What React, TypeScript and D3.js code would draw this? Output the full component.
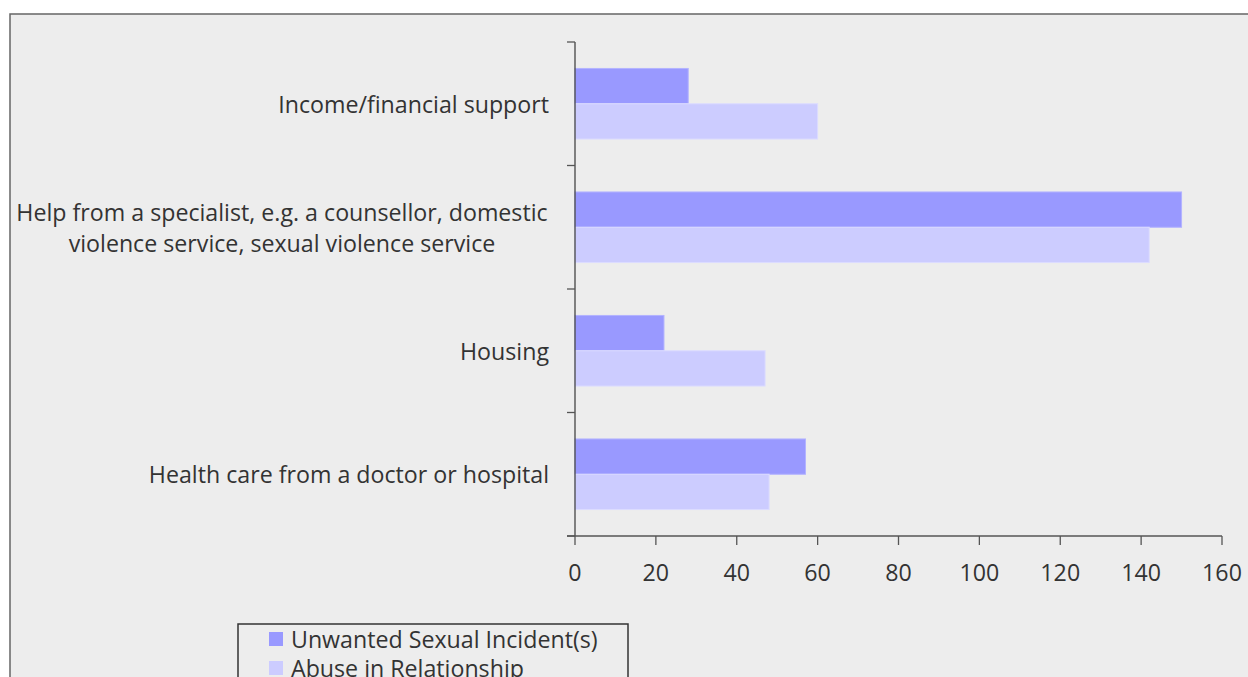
import React from "react";
import * as d3 from "d3";

const categories: string[][] = [
  ["Income/financial support"],
  ["Help from a specialist, e.g. a counsellor, domestic", "violence service, sexual violence service"],
  ["Housing"],
  ["Health care from a doctor or hospital"],
];
const seriesNames = ["Unwanted Sexual Incident(s)", "Abuse in Relationship"];
const unwanted = [28, 150, 22, 57];
const abuse = [60, 142, 47, 48];
const xTicks = [0, 20, 40, 60, 80, 100, 120, 140, 160];
const colors = ["#9999ff", "#ccccff"];

const W = 1248;
const H = 677;
const FONT = "'Open Sans', sans-serif";
const FS = 23.2;

export default function App() {
  const left = 575;
  const right = 1222;
  const top = 42;
  const bottom = 536;
  const x = d3.scaleLinear().domain([0, 160]).range([left, right]);
  const y = d3
    .scaleBand<number>()
    .domain(d3.range(categories.length))
    .range([top, bottom]);
  const band = y.bandwidth();
  const barH = band / 3.5;
  const series = [unwanted, abuse];
  const boundaries = d3.range(categories.length + 1).map((i) => top + i * band);

  return (
    <svg
      width={W}
      height={H}
      style={{ position: "absolute", left: 0, top: 0 }}
      fontFamily={FONT}
    >
      <rect x={0} y={0} width={W} height={H} fill="#ffffff" />
      <rect x={10} y={14} width={W + 20} height={H + 20} fill="#ededed" stroke="#666" strokeWidth={1.5} />

      {series.map((vals, si) =>
        vals.map((v, i) => {
          const y0 = (y(i) as number) + (band - 2 * barH) / 2 + si * barH;
          return (
            <rect
              key={`b${si}-${i}`}
              x={x(0)}
              y={y0}
              width={x(v) - x(0)}
              height={barH}
              fill={colors[si]}
              stroke={si === 0 ? "#b3b3ff" : "#dcdcff"}
              strokeWidth={1}
            />
          );
        })
      )}

      {/* y axis */}
      <line x1={left} x2={left} y1={top} y2={bottom} stroke="#444" strokeWidth={1.3} />
      {boundaries.map((b, i) => (
        <line key={`yt${i}`} x1={left - 8} x2={left} y1={b} y2={b} stroke="#555" strokeWidth={1.3} />
      ))}
      {/* x axis */}
      <line x1={left - 8} x2={right} y1={bottom} y2={bottom} stroke="#555" strokeWidth={1.3} />
      {xTicks.map((t) => (
        <g key={`xt${t}`}>
          <line x1={x(t)} x2={x(t)} y1={bottom} y2={bottom + 9} stroke="#555" strokeWidth={1.3} />
          <text
            x={x(t)}
            y={572}
            textAnchor="middle"
            dominantBaseline="central"
            fontSize={FS}
            fill="#333"
          >
            {t}
          </text>
        </g>
      ))}

      {categories.map((lines, i) => {
        const cy = (y(i) as number) + band / 2;
        const lh = 31;
        const multi = lines.length > 1;
        return lines.map((ln, j) => (
          <text
            key={`c${i}-${j}`}
            x={multi ? 282 : 549}
            y={cy + (j - (lines.length - 1) / 2) * lh}
            textAnchor={multi ? "middle" : "end"}
            dominantBaseline="central"
            fontSize={FS}
            fill="#333"
          >
            {ln}
          </text>
        ));
      })}

      {/* legend */}
      <rect x={238} y={624} width={390} height={80} fill="#ededed" stroke="#333" strokeWidth={1.5} />
      {seriesNames.map((n, i) => (
        <g key={`lg${i}`}>
          <rect x={269} y={632 + i * 29} width={14} height={14} fill={colors[i]} />
          <text x={291} y={639 + i * 29} dominantBaseline="central" fontSize={FS} fill="#333">
            {n}
          </text>
        </g>
      ))}
    </svg>
  );
}
